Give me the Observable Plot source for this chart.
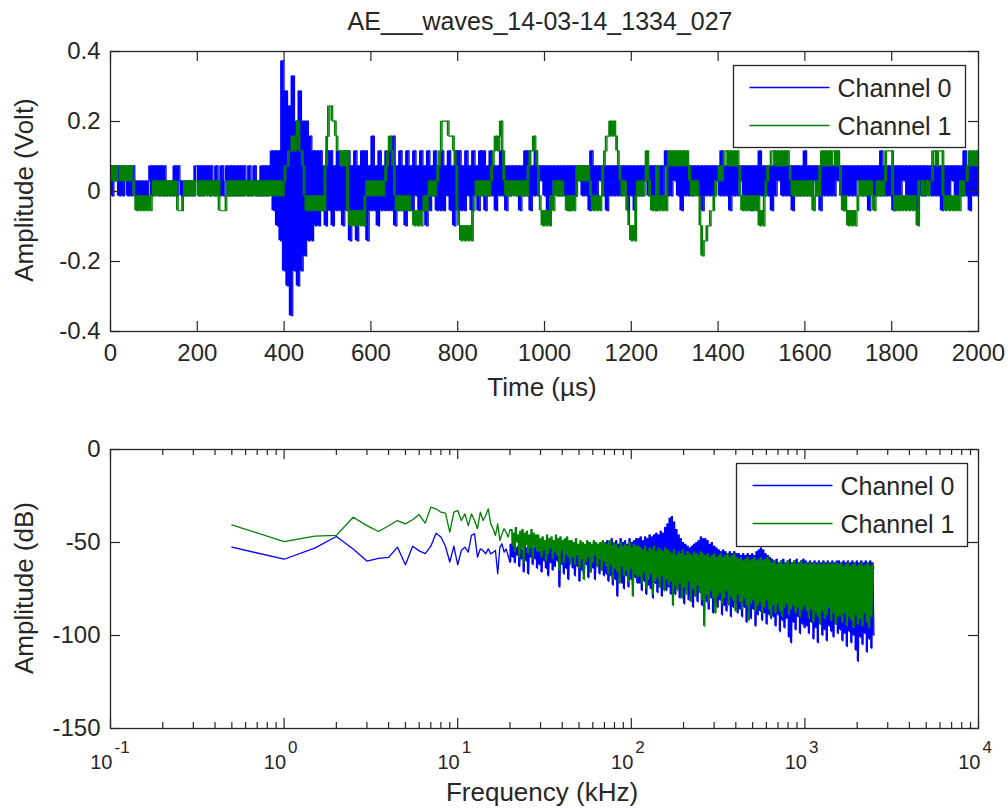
<!DOCTYPE html>
<html>
<head>
<meta charset="utf-8">
<script src="https://cdn.jsdelivr.net/npm/d3@7"></script>
<script src="https://cdn.jsdelivr.net/npm/@observablehq/plot@0.6"></script>
<style>
  html, body { margin: 0; padding: 0; background: #fff; }
  #wrap { position: relative; width: 1008px; height: 812px; background: #fff; overflow: hidden; }
  #wrap svg { position: absolute; left: 0; }
</style>
</head>
<body>
<div id="wrap"></div>
<script>
// ================= DATA =================
const chartTitle = "AE___waves_14-03-14_1334_027";
const seriesNames = ["Channel 0", "Channel 1"];
const timeLabel = "Time (µs)";
const voltLabel = "Amplitude (Volt)";
const freqLabel = "Frequency (kHz)";
const dbLabel = "Amplitude (dB)";

const timeTicks = [0, 200, 400, 600, 800, 1000, 1200, 1400, 1600, 1800, 2000];
const voltTicks = [-0.4, -0.2, 0, 0.2, 0.4];
const dbTicks = [-150, -100, -50, 0];
const freqDecades = [0.1, 1, 10, 100, 1000, 10000];
const freqExponents = ["-1", "0", "1", "2", "3", "4"];

// Waveforms: one sample every 4 µs; each character is an ADC level (0-9, a-h)
const sampleStepUs = 4;
const adcLevels = [-0.355, -0.312, -0.27, -0.227, -0.184, -0.141, -0.098, -0.055, -0.0125,
                   0.030, 0.073, 0.116, 0.158, 0.201, 0.244, 0.287, 0.33, 0.373];

const ch0Codes = [
  "a8a9a8a8a9","8a8a989898","989a8a9a8a","8a89898a8a","989898989a",
  "a8a8a9a8a9","8a98a89a8a","8a8a8a8a98","a89a898a8a","8a9b7b6b5h",
  "3f2e0g3d2f","3d4d5c5b6b","6b7a6b7b6a","7b7a6b7b5a","7b5a7b6b5a",
  "7c7a6b7a7b","7b7c6a7b7a","6b7a7b8a7b","7a6b7a8b7a","7b7a8b7a6b",
  "7b7a7b8a7b","8a7b8b7a8b","8a7a8b8a7a","8a9a8a7a8b","8b7a8b8a9a",
  "8a7a8a9a8a","8a8a7a8a8a","9a8a8a7b8a","8a9a8a7a8a","8a8a8a9a7a",
  "8a7a8a8a9a","8a8a7a8a8a","b8a8a9a8a7","a8a8a8a9a8","a7a8a8a8a9",
  "a8b8a8a7a8","a8a9a8a8a7","a8a8b8a8a8","a7a8a9a8a8","a8a7a8a8a8",
  "b8a8a9a8a7","a8a8a8a8a9","a8a7a8a8a8","a9a8a8a7a8","a8a8b8a8a8",
  "a7a8a8a9a8","a8a8a7a8a8","a9a8a8a8a7","a8a8a9a8a8","a8b8a7a8a8",
  "a"
].join("");

const ch1Codes = [
  "9a9a99a9a9a9a9", "8787878787", "898989898989898", "777", "89898989",
  "9898989898989", "7777", "89898989898989898989898989", "8989898",
  "9a", "abbcbcdbba", "878787878787", "aceeddcb", "babab", "7676767676", "898",
  "98989898", "9abcba", "8787878787", "767676787", "898989", "abddddcccba",
  "7656565657", "8989898989", "abcbcdb", "98989898989898", "abbcba", "876",
  "767687", "989898", "8787878", "a9a9a9a9", "8787878", "abccdcdc", "ba989876",
  "565", "898989b9", "8787a78787", "ababababababa", "989898", "64556677", "89",
  "9a9ab", "babababa", "87878787878676", "89aabbaba", "bababa", "98989898",
  "989897898", "ababababbaba", "87876767678", "989898987898989", "bbb",
  "b878787878787876", "99899899", "bbabbb", "8787878787", "9899", "abababa"
].join("");

// Spectra: bins 0.5 ... 20 kHz read one by one
const lowFreqKHz = d3.range(0.5, 20.25, 0.5);
const ch0LowDb = [-52.5,-59,-53,-46.8,-53.5,-60,-58.5,-58,-52.5,-62,-52,-54.5,-56,-52,-45,-47,-52,-60.5,-52,-62,
                  -54.3,-52.5,-55.2,-46.2,-45.3,-57.9,-53.4,-54.3,-56.1,-53.4,-56.1,-55.2,-54.3,-66.8,-52.5,-50.7,-55.2,-53.4,-57,-60.6];
const ch1LowDb = [-40.5,-49.5,-46.6,-46.2,-36.4,-40.9,-44.1,-41,-38.2,-40,-37.8,-35,-39.6,-31,-31.9,-33.7,-34.2,-44.4,-33.7,-32.8,
                  -38.2,-34.6,-40.9,-34.6,-38.2,-42.6,-33.7,-38.2,-35.5,-31.9,-40,-42.6,-46.2,-40,-48.9,-45.3,-42.6,-44.4,-47.1,-43.5];

// Dense part 20.5 ... 2500 kHz, log-spaced readings (peaks and troughs of the noise band)
const denseFreqRange = [20.5, 2500];
const ch0DenseDb = [
  -51,-58,-50,-61,-53,-57,-52,-63,-50,-59,-54,-66,-51,-60,-53,-67,-52,-58,-50,-62,-53,-59,-51,-64,
  -52,-62,-50,-66,-53,-60,-51,-64,-52,-68,-50,-61,-53,-65,-51,-63,-52,-60,-50,-74,-53,-62,-51,-67,-52,-64,-50,-70,-53,-61,
  -51,-64,-53,-68,-50,-63,-52,-71,-54,-65,-51,-67,-53,-62,-52,-69,-50,-66,-54,-64,-51,-70,-53,-63,-52,-67,-50,-65,-53,-68,
  -50,-67,-49,-71,-51,-68,-48,-73,-50,-70,-49,-79,-51,-69,-48,-72,-50,-75,-49,-68,-51,-74,-48,-70,-50,-73,-49,-69,-48,-72,
  -48,-72,-47,-76,-49,-71,-47,-78,-48,-73,-46,-75,-47,-80,-46,-72,-45,-77,-46,-74,-44,-79,-45,-73,-42,-76,-40,-74,-37,-78,
  -36,-74,-39,-78,-43,-75,-46,-80,-48,-77,-50,-83,-51,-76,-52,-81,-53,-78,-52,-85,-51,-79,-50,-82,-49,-77,-47,-84,-48,-80,
  -48,-82,-49,-86,-51,-80,-50,-88,-52,-83,-53,-85,-54,-81,-55,-89,-54,-84,-55,-87,-56,-82,-55,-90,-56,-85,-55,-83,-56,-88,
  -56,-86,-57,-90,-56,-85,-57,-93,-56,-88,-57,-91,-56,-86,-57,-95,-55,-89,-54,-87,-53,-92,-54,-88,-56,-94,-57,-89,-58,-91,
  -59,-90,-60,-95,-59,-89,-61,-98,-60,-92,-59,-96,-61,-91,-60,-101,-59,-104,-61,-93,-60,-97,-59,-90,-61,-99,-60,-94,-59,-96,
  -60,-95,-61,-99,-60,-93,-61,-102,-60,-96,-61,-104,-60,-94,-61,-100,-60,-97,-61,-103,-60,-95,-61,-98,-60,-101,-61,-94,-60,-99,
  -60,-97,-61,-103,-60,-99,-61,-106,-60,-98,-61,-104,-60,-100,-61,-108,-60,-114,-61,-101,-60,-105,-61,-99,-60,-109,-61,-102,-60,-107,-61,-100
];
const ch1DenseDb = [
  -43,-52,-45,-55,-42,-50,-46,-58,-44,-53,-43,-61,-45,-51,-44,-56,-46,-53,-43,-59,-45,-52,-46,-55,
  -46,-55,-48,-58,-47,-54,-49,-60,-46,-56,-48,-53,-47,-59,-49,-55,-46,-57,-48,-65,-47,-54,-49,-61,-48,-56,-47,-58,-49,-62,
  -49,-58,-50,-62,-48,-57,-51,-64,-49,-59,-50,-70,-51,-60,-49,-58,-50,-66,-51,-61,-49,-57,-50,-63,-51,-59,-50,-65,-49,-60,
  -50,-63,-51,-67,-49,-62,-52,-70,-50,-64,-51,-66,-53,-72,-50,-63,-52,-68,-51,-65,-52,-71,-50,-64,-53,-79,-51,-67,-52,-69,
  -52,-68,-53,-72,-54,-66,-52,-75,-55,-70,-53,-67,-54,-78,-52,-71,-55,-69,-53,-74,-54,-68,-55,-76,-53,-70,-54,-73,-55,-71,
  -56,-84,-54,-73,-57,-76,-55,-72,-56,-80,-54,-74,-57,-78,-55,-71,-56,-82,-57,-75,-55,-79,-56,-73,-57,-77,-55,-81,-56,-95,
  -57,-78,-56,-82,-58,-76,-57,-80,-56,-88,-58,-79,-57,-77,-56,-83,-58,-80,-57,-76,-56,-84,-58,-79,-57,-81,-56,-87,-58,-78,
  -59,-82,-58,-86,-60,-80,-59,-84,-58,-92,-60,-83,-59,-81,-58,-87,-60,-84,-59,-82,-58,-88,-60,-85,-59,-81,-58,-86,-60,-90,
  -61,-84,-60,-88,-62,-83,-61,-87,-60,-90,-62,-85,-61,-83,-60,-89,-62,-86,-61,-84,-60,-88,-62,-85,-61,-90,-60,-86,-62,-84,
  -61,-87,-62,-91,-61,-86,-62,-93,-61,-88,-62,-90,-61,-94,-62,-87,-61,-91,-62,-89,-61,-85,-62,-92,-61,-88,-62,-94,-61,-90,
  -62,-89,-61,-93,-63,-88,-62,-95,-61,-90,-63,-92,-62,-96,-61,-89,-63,-94,-62,-91,-61,-95,-63,-88,-62,-93,-61,-96,-63,-90,-62,-64
];

// ================= BUILD =================
const FONT = '"Liberation Sans", Arial, Helvetica, sans-serif';
const BLUE = "#0000ff", GREEN = "#008000", INK = "#262626";

const wave = (codes) => Array.from(codes, (c, i) => ({t: i * sampleStepUs, v: adcLevels[parseInt(c, 18)]}));
const wave0 = wave(ch0Codes), wave1 = wave(ch1Codes);

// span covered by the (densely sampled) trace between two consecutive read points
const envelope = (pts, key) => pts.map((d, i) => {
  const n = pts[Math.min(i + 1, pts.length - 1)];
  return {...d, lo: Math.min(d[key], n[key]), hi: Math.max(d[key], n[key])};
});

const lowPart = (low) => low.map((db, i) => ({f: lowFreqKHz[i], db}));
const densePart = (low, dense) => {
  const [f0, f1] = denseFreqRange;
  return [
    {f: lowFreqKHz[lowFreqKHz.length - 1], db: low[low.length - 1]},
    ...dense.map((db, i) => ({f: f0 * Math.pow(f1 / f0, i / (dense.length - 1)), db}))
  ];
};
const low0 = lowPart(ch0LowDb), low1 = lowPart(ch1LowDb);
const dense0 = densePart(ch0LowDb, ch0DenseDb), dense1 = densePart(ch1LowDb, ch1DenseDb);

const freqMinor = freqDecades.slice(0, -1).flatMap(p => [2, 3, 4, 5, 6, 7, 8, 9].map(m => m * p));

const W = 1008, ML = 110, MR = 30;
const FW = W - ML - MR;          // frame width
const MAJ = 10, MIN = 6;

function boxTicks(xTicks, yTicks, FH, len) {
  return [
    Plot.tickX(xTicks, {x: d => d, insetTop: FH - len, stroke: INK, strokeWidth: 1.2}),
    Plot.tickX(xTicks, {x: d => d, insetBottom: FH - len, stroke: INK, strokeWidth: 1.2}),
    ...(yTicks ? [
      Plot.tickY(yTicks, {y: d => d, insetRight: FW - len, stroke: INK, strokeWidth: 1.2}),
      Plot.tickY(yTicks, {y: d => d, insetLeft: FW - len, stroke: INK, strokeWidth: 1.2})
    ] : [])
  ];
}

function traceMarks(pts, xKey, yKey, color, width, curve) {
  return [
    Plot.areaY(envelope(pts, yKey), {x: xKey, y1: "lo", y2: "hi", fill: color, curve: "step-after"}),
    Plot.line(pts, {x: xKey, y: yKey, stroke: color, strokeWidth: width, curve})
  ];
}

// ---- Top: time signal ----
const H1 = 400, MT1 = 51, MB1 = 69, FH1 = H1 - MT1 - MB1;
const p1 = Plot.plot({
  width: W, height: H1,
  marginLeft: ML, marginRight: MR, marginTop: MT1, marginBottom: MB1,
  style: {fontFamily: FONT, fontSize: "24px", color: INK, background: "transparent"},
  x: {domain: [0, 2000], label: null},
  y: {domain: [-0.4, 0.4], label: null},
  marks: [
    ...traceMarks(wave0, "t", "v", BLUE, 1.2, "step-after"),
    ...traceMarks(wave1, "t", "v", GREEN, 1.2, "step-after"),
    ...boxTicks(timeTicks, voltTicks, FH1, MAJ),
    Plot.frame({stroke: INK, strokeWidth: 1.3}),
    Plot.axisX({ticks: timeTicks, tickSize: 0, tickPadding: 12, label: null, tickFormat: d => String(d)}),
    Plot.axisY({ticks: voltTicks, tickSize: 0, tickPadding: 10, label: null,
                tickFormat: d => (d === 0 ? "0" : d.toFixed(1))})
  ]
});
p1.style.top = "0px";

// ---- Bottom: spectrum ----
const H2 = 412, MT2 = 49, MB2 = 84, FH2 = H2 - MT2 - MB2;
const p2 = Plot.plot({
  width: W, height: H2,
  marginLeft: ML, marginRight: MR, marginTop: MT2, marginBottom: MB2,
  style: {fontFamily: FONT, fontSize: "24px", color: INK, background: "transparent"},
  x: {type: "log", domain: [0.1, 10000], label: null, axis: null},
  y: {domain: [-150, 0], label: null},
  marks: [
    Plot.line(low0, {x: "f", y: "db", stroke: BLUE, strokeWidth: 1.3}),
    ...traceMarks(dense0, "f", "db", BLUE, 1.2, "linear"),
    Plot.line(low1, {x: "f", y: "db", stroke: GREEN, strokeWidth: 1.3}),
    ...traceMarks(dense1, "f", "db", GREEN, 1.2, "linear"),
    ...boxTicks(freqDecades, dbTicks, FH2, MAJ),
    ...boxTicks(freqMinor, null, FH2, MIN),
    Plot.frame({stroke: INK, strokeWidth: 1.3}),
    Plot.axisY({ticks: dbTicks, tickSize: 0, tickPadding: 10, label: null, tickFormat: d => String(d)}),
    Plot.text(freqDecades, {x: d => d, text: () => "10", frameAnchor: "bottom", lineAnchor: "bottom",
                            dy: 40, dx: 2, textAnchor: "end", fontSize: 20, fill: INK}),
    Plot.text(freqDecades, {x: d => d, text: (d, i) => freqExponents[i], frameAnchor: "bottom", lineAnchor: "bottom",
                            dy: 24, dx: 4, textAnchor: "start", fontSize: 17, fill: INK})
  ]
});
p2.style.top = "400px";

const wrap = document.getElementById("wrap");
wrap.appendChild(p1);
wrap.appendChild(p2);

// ---- Overlay: title, axis titles, legends ----
const ov = d3.create("svg")
  .attr("width", W).attr("height", 812)
  .style("top", "0px")
  .attr("font-family", FONT).attr("fill", INK);

ov.append("text").attr("x", 540).attr("y", 30).attr("text-anchor", "middle")
  .attr("font-size", 25).text(chartTitle);
ov.append("text").attr("x", 542).attr("y", 396).attr("text-anchor", "middle")
  .attr("font-size", 26).text(timeLabel);
ov.append("text").attr("x", 542).attr("y", 801).attr("text-anchor", "middle")
  .attr("font-size", 26).text(freqLabel);
ov.append("text").attr("transform", "translate(33,190) rotate(-90)").attr("text-anchor", "middle")
  .attr("font-size", 26).text(voltLabel);
ov.append("text").attr("transform", "translate(33,588) rotate(-90)").attr("text-anchor", "middle")
  .attr("font-size", 26).text(dbLabel);

function legend(x, y, w, h) {
  const g = ov.append("g");
  g.append("rect").attr("x", x).attr("y", y).attr("width", w).attr("height", h)
    .attr("fill", "#fff").attr("stroke", INK).attr("stroke-width", 1.3);
  const colors = [BLUE, GREEN];
  seriesNames.forEach((name, i) => {
    const cy = y + 22 + i * 38;
    g.append("line").attr("x1", x + 16).attr("x2", x + 96).attr("y1", cy).attr("y2", cy)
      .attr("stroke", colors[i]).attr("stroke-width", 1.3);
    g.append("text").attr("x", x + 104).attr("y", cy + 9).attr("font-size", 25).text(name);
  });
}
legend(733.5, 65.5, 232, 82);
legend(736.5, 463.5, 231, 83);

wrap.appendChild(ov.node());
</script>
</body>
</html>
